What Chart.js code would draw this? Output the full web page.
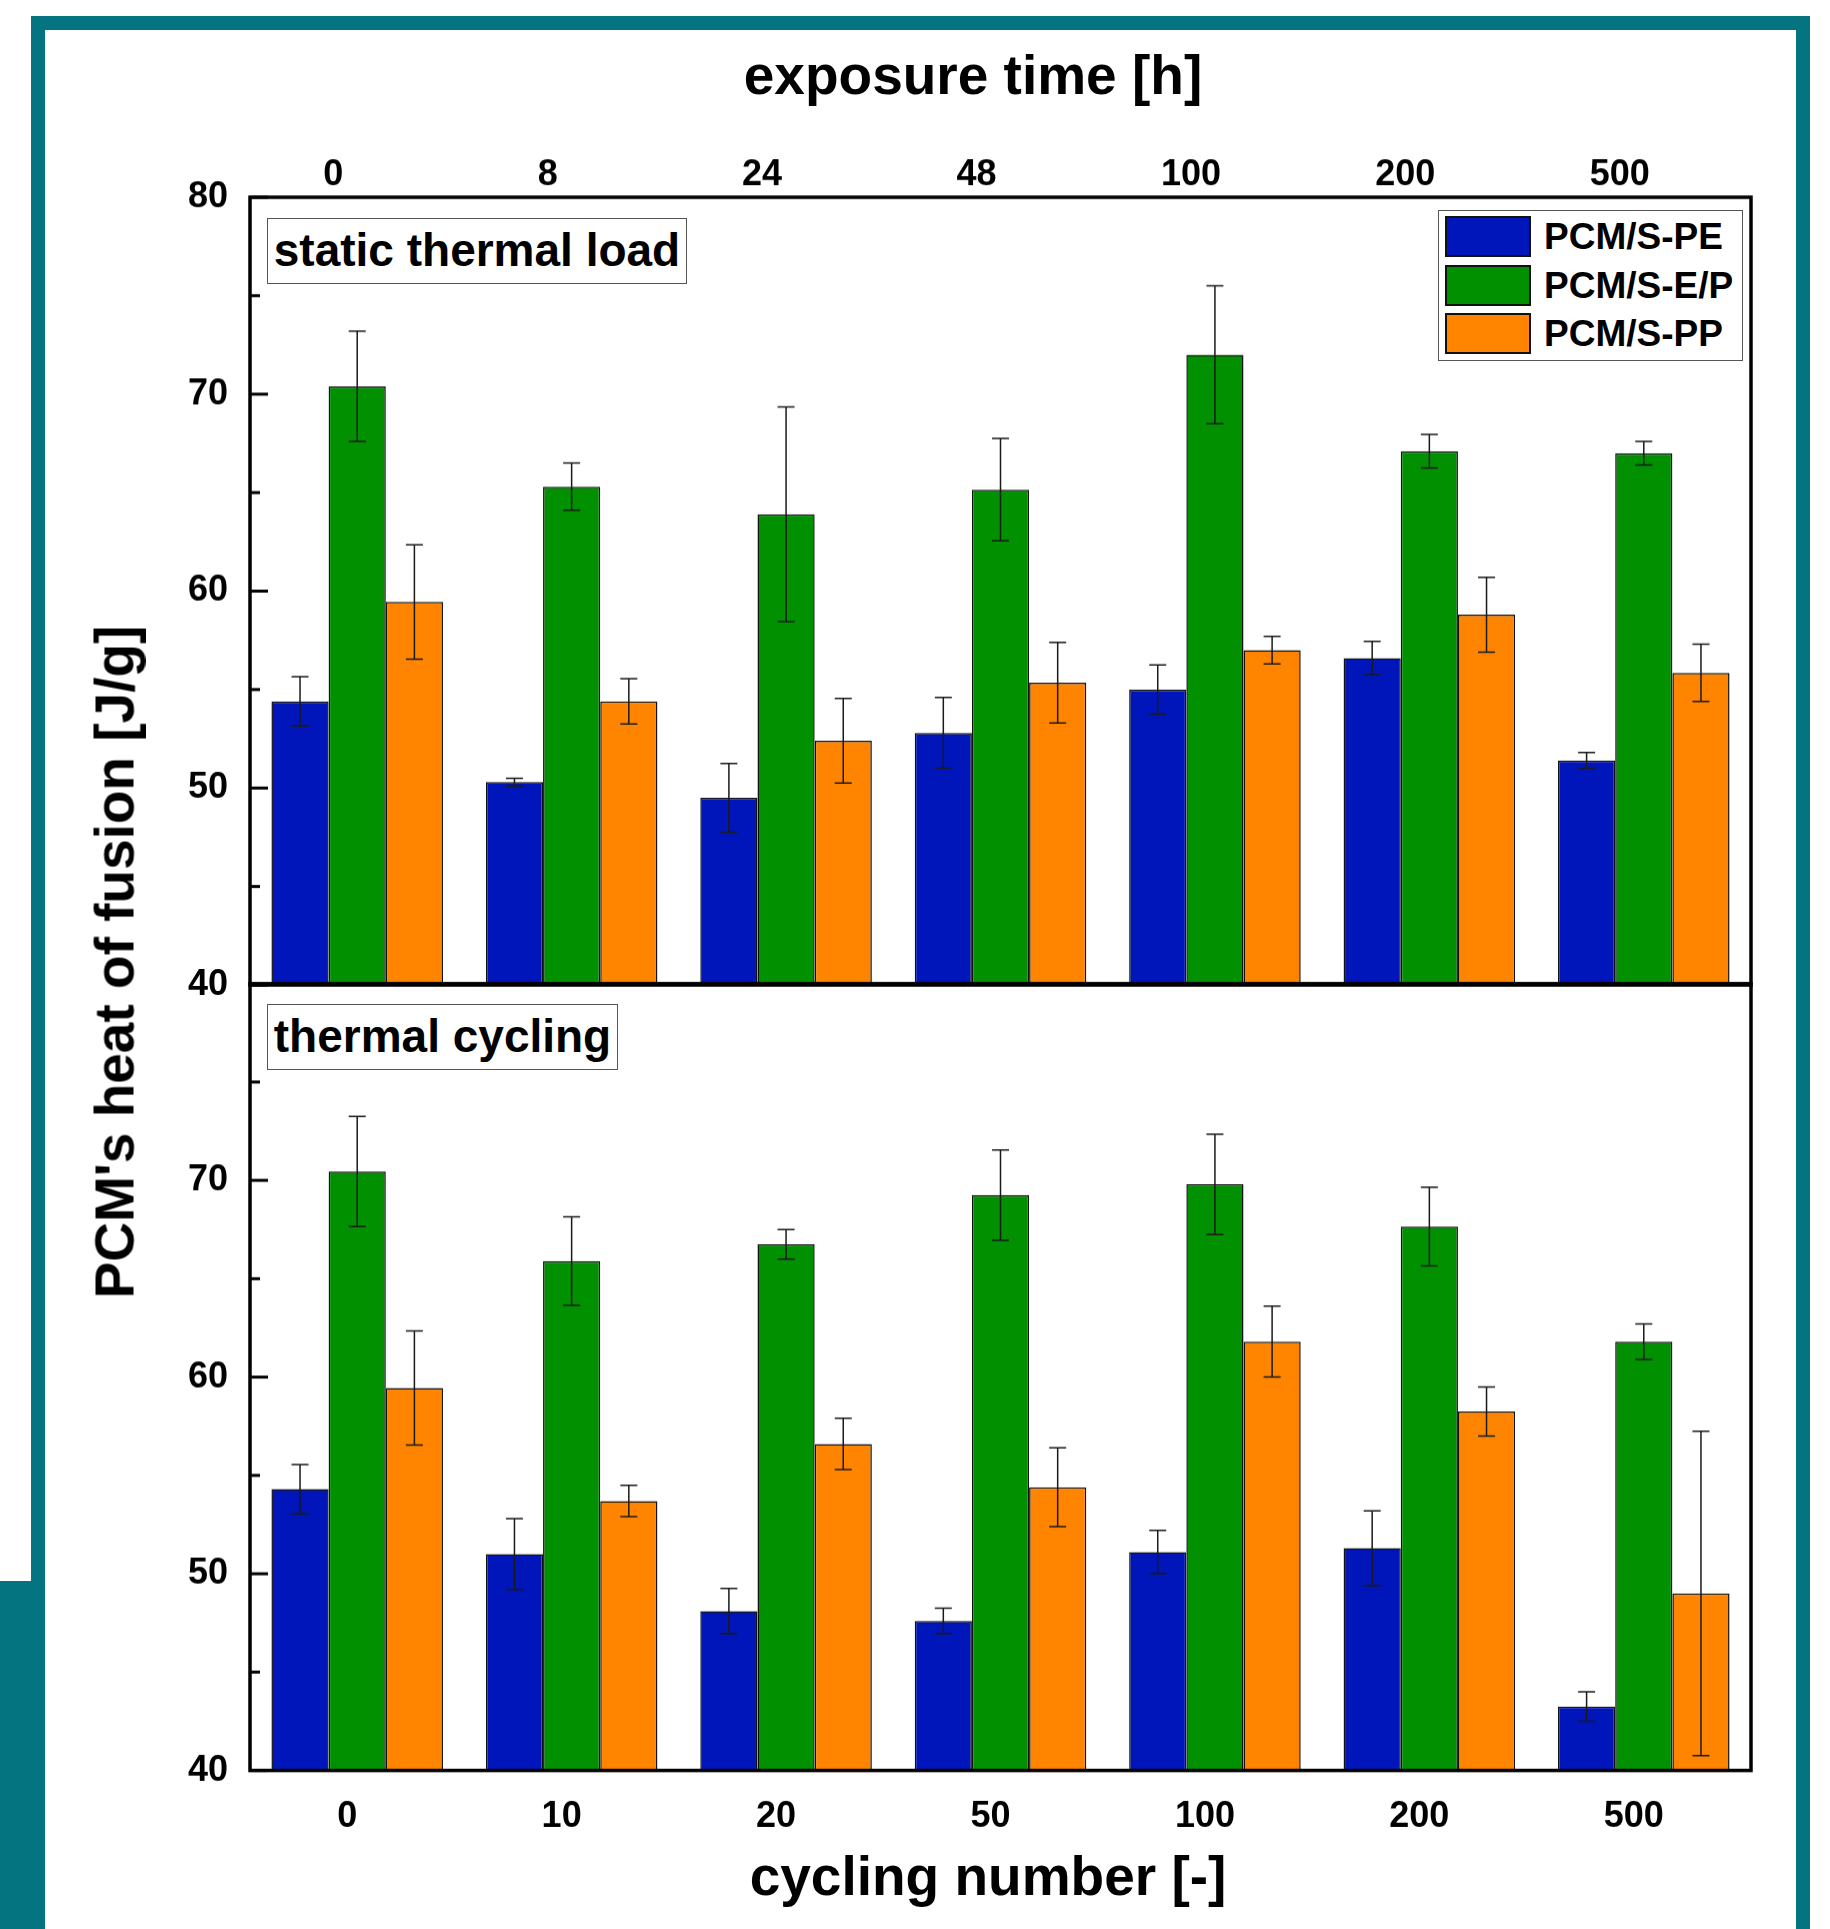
<!DOCTYPE html>
<html>
<head>
<meta charset="utf-8">
<title>PCM heat of fusion</title>
<script src="https://cdn.jsdelivr.net/npm/chart.js"></script>
<style>
  body { margin: 0; background: #fff; }
  #page {
    position: relative; width: 1830px; height: 1929px; overflow: hidden; background: #fff;
    font-family: "Liberation Sans", Arial, sans-serif; font-weight: bold; color: #000;
  }
  .teal { position: absolute; background: #047580; }
  canvas { position: absolute; left: 0; }
  .title { position: absolute; font-size: 55px; line-height: 55px; white-space: nowrap; }
  .panel-label {
    position: absolute; box-sizing: border-box; border: 1.5px solid #555; background: #fff;
    font-size: 46px; text-align: center; white-space: nowrap;
  }
  #legend {
    position: absolute; left: 1438px; top: 210px; width: 305px; height: 151px;
    box-sizing: border-box; border: 1.5px solid #555; background: #fff;
  }
  .swatch { position: absolute; left: 6px; width: 86px; height: 41px; box-sizing: border-box; border: 2px solid #111; }
  .legend-text { position: absolute; left: 105px; font-size: 37px; line-height: 41px; white-space: nowrap; }
</style>
</head>
<body>
<div id="page">
  <!-- teal frame round the figure -->
  <div class="teal" style="left:31px; top:16px; width:1779px; height:14px;"></div>
  <div class="teal" style="left:31px; top:16px; width:14px; height:1565px;"></div>
  <div class="teal" style="left:0; top:1581px; width:45px; height:348px;"></div>
  <div class="teal" style="left:1796px; top:16px; width:14px; height:1913px;"></div>

  <canvas id="upper" width="1830" height="1030" style="top:0;"></canvas>
  <canvas id="lower" width="1830" height="990" style="top:939px;"></canvas>

  <div class="title" style="left:973px; top:48px; transform:translateX(-50%);">exposure time [h]</div>
  <div class="title" style="left:988px; top:1849px; transform:translateX(-50%);">cycling number [-]</div>
  <div class="title" style="left:115px; top:962px; transform:translate(-50%,-50%) rotate(-90deg);">PCM's heat of fusion [J/g]</div>

  <div class="panel-label" style="left:267px; top:218px; width:420px; height:66px; line-height:63px;">static thermal load</div>
  <div class="panel-label" style="left:267px; top:1004px; width:351px; height:66px; line-height:63px;">thermal cycling</div>

  <div id="legend"></div>
</div>

<script>
    // tick labels of the two category axes
    const exposureTime = ['0', '8', '24', '48', '100', '200', '500'];
    const cyclingNumber = ['0', '10', '20', '50', '100', '200', '500'];

    const seriesNames = ['PCM/S-PE', 'PCM/S-E/P', 'PCM/S-PP'];
    const seriesColors = ['#0016bb', '#009000', '#ff8400'];

    // static thermal load (upper panel)
    const staticPE = [54.4, 50.3, 49.5, 52.8, 55.0, 56.6, 51.4];
    const staticPEerr = [1.25, 0.2, 1.75, 1.8, 1.25, 0.85, 0.4];
    const staticEP = [70.4, 65.3, 63.9, 65.15, 72.0, 67.1, 67.0];
    const staticEPerr = [2.8, 1.2, 5.45, 2.6, 3.5, 0.85, 0.6];
    const staticPP = [59.45, 54.4, 52.4, 55.35, 57.0, 58.8, 55.85];
    const staticPPerr = [2.9, 1.15, 2.15, 2.05, 0.7, 1.9, 1.45];

    // thermal cycling (lower panel)
    const cyclingPE = [54.3, 51.0, 48.1, 47.6, 51.1, 51.3, 43.25];
    const cyclingPEerr = [1.25, 1.8, 1.15, 0.65, 1.1, 1.9, 0.75];
    const cyclingEP = [70.45, 65.9, 66.75, 69.25, 69.8, 67.65, 61.8];
    const cyclingEPerr = [2.8, 2.25, 0.75, 2.3, 2.55, 2.0, 0.9];
    const cyclingPP = [59.45, 53.7, 56.6, 54.4, 61.8, 58.25, 49.0];
    const cyclingPPerr = [2.9, 0.8, 1.3, 2.0, 1.8, 1.25, 8.25];

    const yMin = 40;
    const yMax = 80;

    const tickFont = { family: '"Liberation Sans", Arial, sans-serif', size: 36, weight: 'bold' };

    // where the two panels meet, in page pixels
    const panelJoin = 984;

    function makeDatasets(values, errors) {
        return values.map((v, k) => ({
            label: seriesNames[k],
            data: v,
            errors: errors[k],
            backgroundColor: seriesColors[k],
            borderColor: '#111',
            borderWidth: 1.5,
            base: yMin,
            categoryPercentage: 0.8,
            barPercentage: 1.0
        }));
    }

    // error bars drawn through the value scale
    const errorBars = {
        id: 'errorBars',
        afterDatasetsDraw(chart) {
            const ctx = chart.ctx;
            const y = chart.scales.y;
            ctx.save();
            ctx.strokeStyle = '#1a1a1a';
            ctx.lineWidth = 1.5;
            chart.data.datasets.forEach((ds, i) => {
                chart.getDatasetMeta(i).data.forEach((bar, j) => {
                    const top = y.getPixelForValue(ds.data[j] + ds.errors[j]);
                    const bot = y.getPixelForValue(ds.data[j] - ds.errors[j]);
                    ctx.beginPath();
                    ctx.moveTo(bar.x, top); ctx.lineTo(bar.x, bot);
                    ctx.moveTo(bar.x - 8.5, top); ctx.lineTo(bar.x + 8.5, top);
                    ctx.moveTo(bar.x - 8.5, bot); ctx.lineTo(bar.x + 8.5, bot);
                    ctx.stroke();
                });
            });
            ctx.restore();
        }
    };

    // box round the plot area, inward ticks on the left axis
    const frame = {
        id: 'frame',
        afterDraw(chart) {
            const ctx = chart.ctx;
            const a = chart.chartArea;
            const y = chart.scales.y;
            ctx.save();
            ctx.strokeStyle = '#000';
            ctx.lineWidth = 3.5;
            ctx.strokeRect(a.left, a.top, a.right - a.left, a.bottom - a.top);
            ctx.lineWidth = 3;
            y.ticks.forEach(t => {
                const py = y.getPixelForValue(t.value);
                const len = t.value % 10 === 0 ? 18 : 10;
                ctx.beginPath();
                ctx.moveTo(a.left, py);
                ctx.lineTo(a.left + len, py);
                ctx.stroke();
            });
            ctx.restore();
        }
    };

    function makeChart(id, labels, datasets, xOpts, yHide) {
        return new Chart(document.getElementById(id), {
            type: 'bar',
            data: { labels: labels, datasets: datasets },
            options: {
                responsive: false,
                maintainAspectRatio: false,
                devicePixelRatio: 1,
                animation: false,
                layout: { padding: { left: 0, right: 79, top: 0, bottom: 0 } },
                plugins: { legend: { display: false }, tooltip: { enabled: false } },
                scales: {
                    x: Object.assign({
                        offset: true,
                        grid: { display: false, drawTicks: false },
                        border: { display: false }
                    }, xOpts),
                    y: {
                        min: yMin,
                        max: yMax,
                        grid: { display: false, drawTicks: false },
                        border: { display: false },
                        ticks: {
                            stepSize: 5,
                            font: tickFont,
                            color: '#000',
                            padding: 22,
                            callback: v => (v % 10 === 0 && v !== yHide) ? v : ''
                        },
                        afterFit(s) { s.width = 250; }
                    }
                }
            },
            plugins: [errorBars, frame]
        });
    }

    const upper = makeChart('upper', exposureTime,
        makeDatasets([staticPE, staticEP, staticPP], [staticPEerr, staticEPerr, staticPPerr]),
        {
            position: 'top',
            ticks: { font: tickFont, color: '#000', padding: 0, labelOffset: -24, maxRotation: 0, autoSkip: false },
            afterFit(s) { s.height = 197; }
        },
        null);

    const lower = makeChart('lower', cyclingNumber,
        makeDatasets([cyclingPE, cyclingEP, cyclingPP], [cyclingPEerr, cyclingEPerr, cyclingPPerr]),
        {
            position: 'bottom',
            ticks: { font: tickFont, color: '#000', padding: 25, labelOffset: -10, maxRotation: 0, autoSkip: false },
            afterFit(s) { s.height = 159; }
        },
        yMax);

    // fit the canvases so both plot areas meet exactly at panelJoin
    const gapBelow = upper.height - upper.chartArea.bottom;
    upper.resize(1830, panelJoin + gapBelow);

    const gapAbove = lower.chartArea.top;
    const lowerTop = panelJoin - gapAbove;
    lower.canvas.style.top = lowerTop + 'px';
    lower.resize(1830, 1929 - lowerTop);

    // legend box built from the series names and colours
    const legend = document.getElementById('legend');
    seriesNames.forEach((name, k) => {
        const top = 5 + k * 48.5;
        const sw = document.createElement('div');
        sw.className = 'swatch';
        sw.style.top = top + 'px';
        sw.style.background = seriesColors[k];
        legend.appendChild(sw);
        const tx = document.createElement('div');
        tx.className = 'legend-text';
        tx.style.top = top + 'px';
        tx.textContent = name;
        legend.appendChild(tx);
    });
</script>
</body>
</html>
